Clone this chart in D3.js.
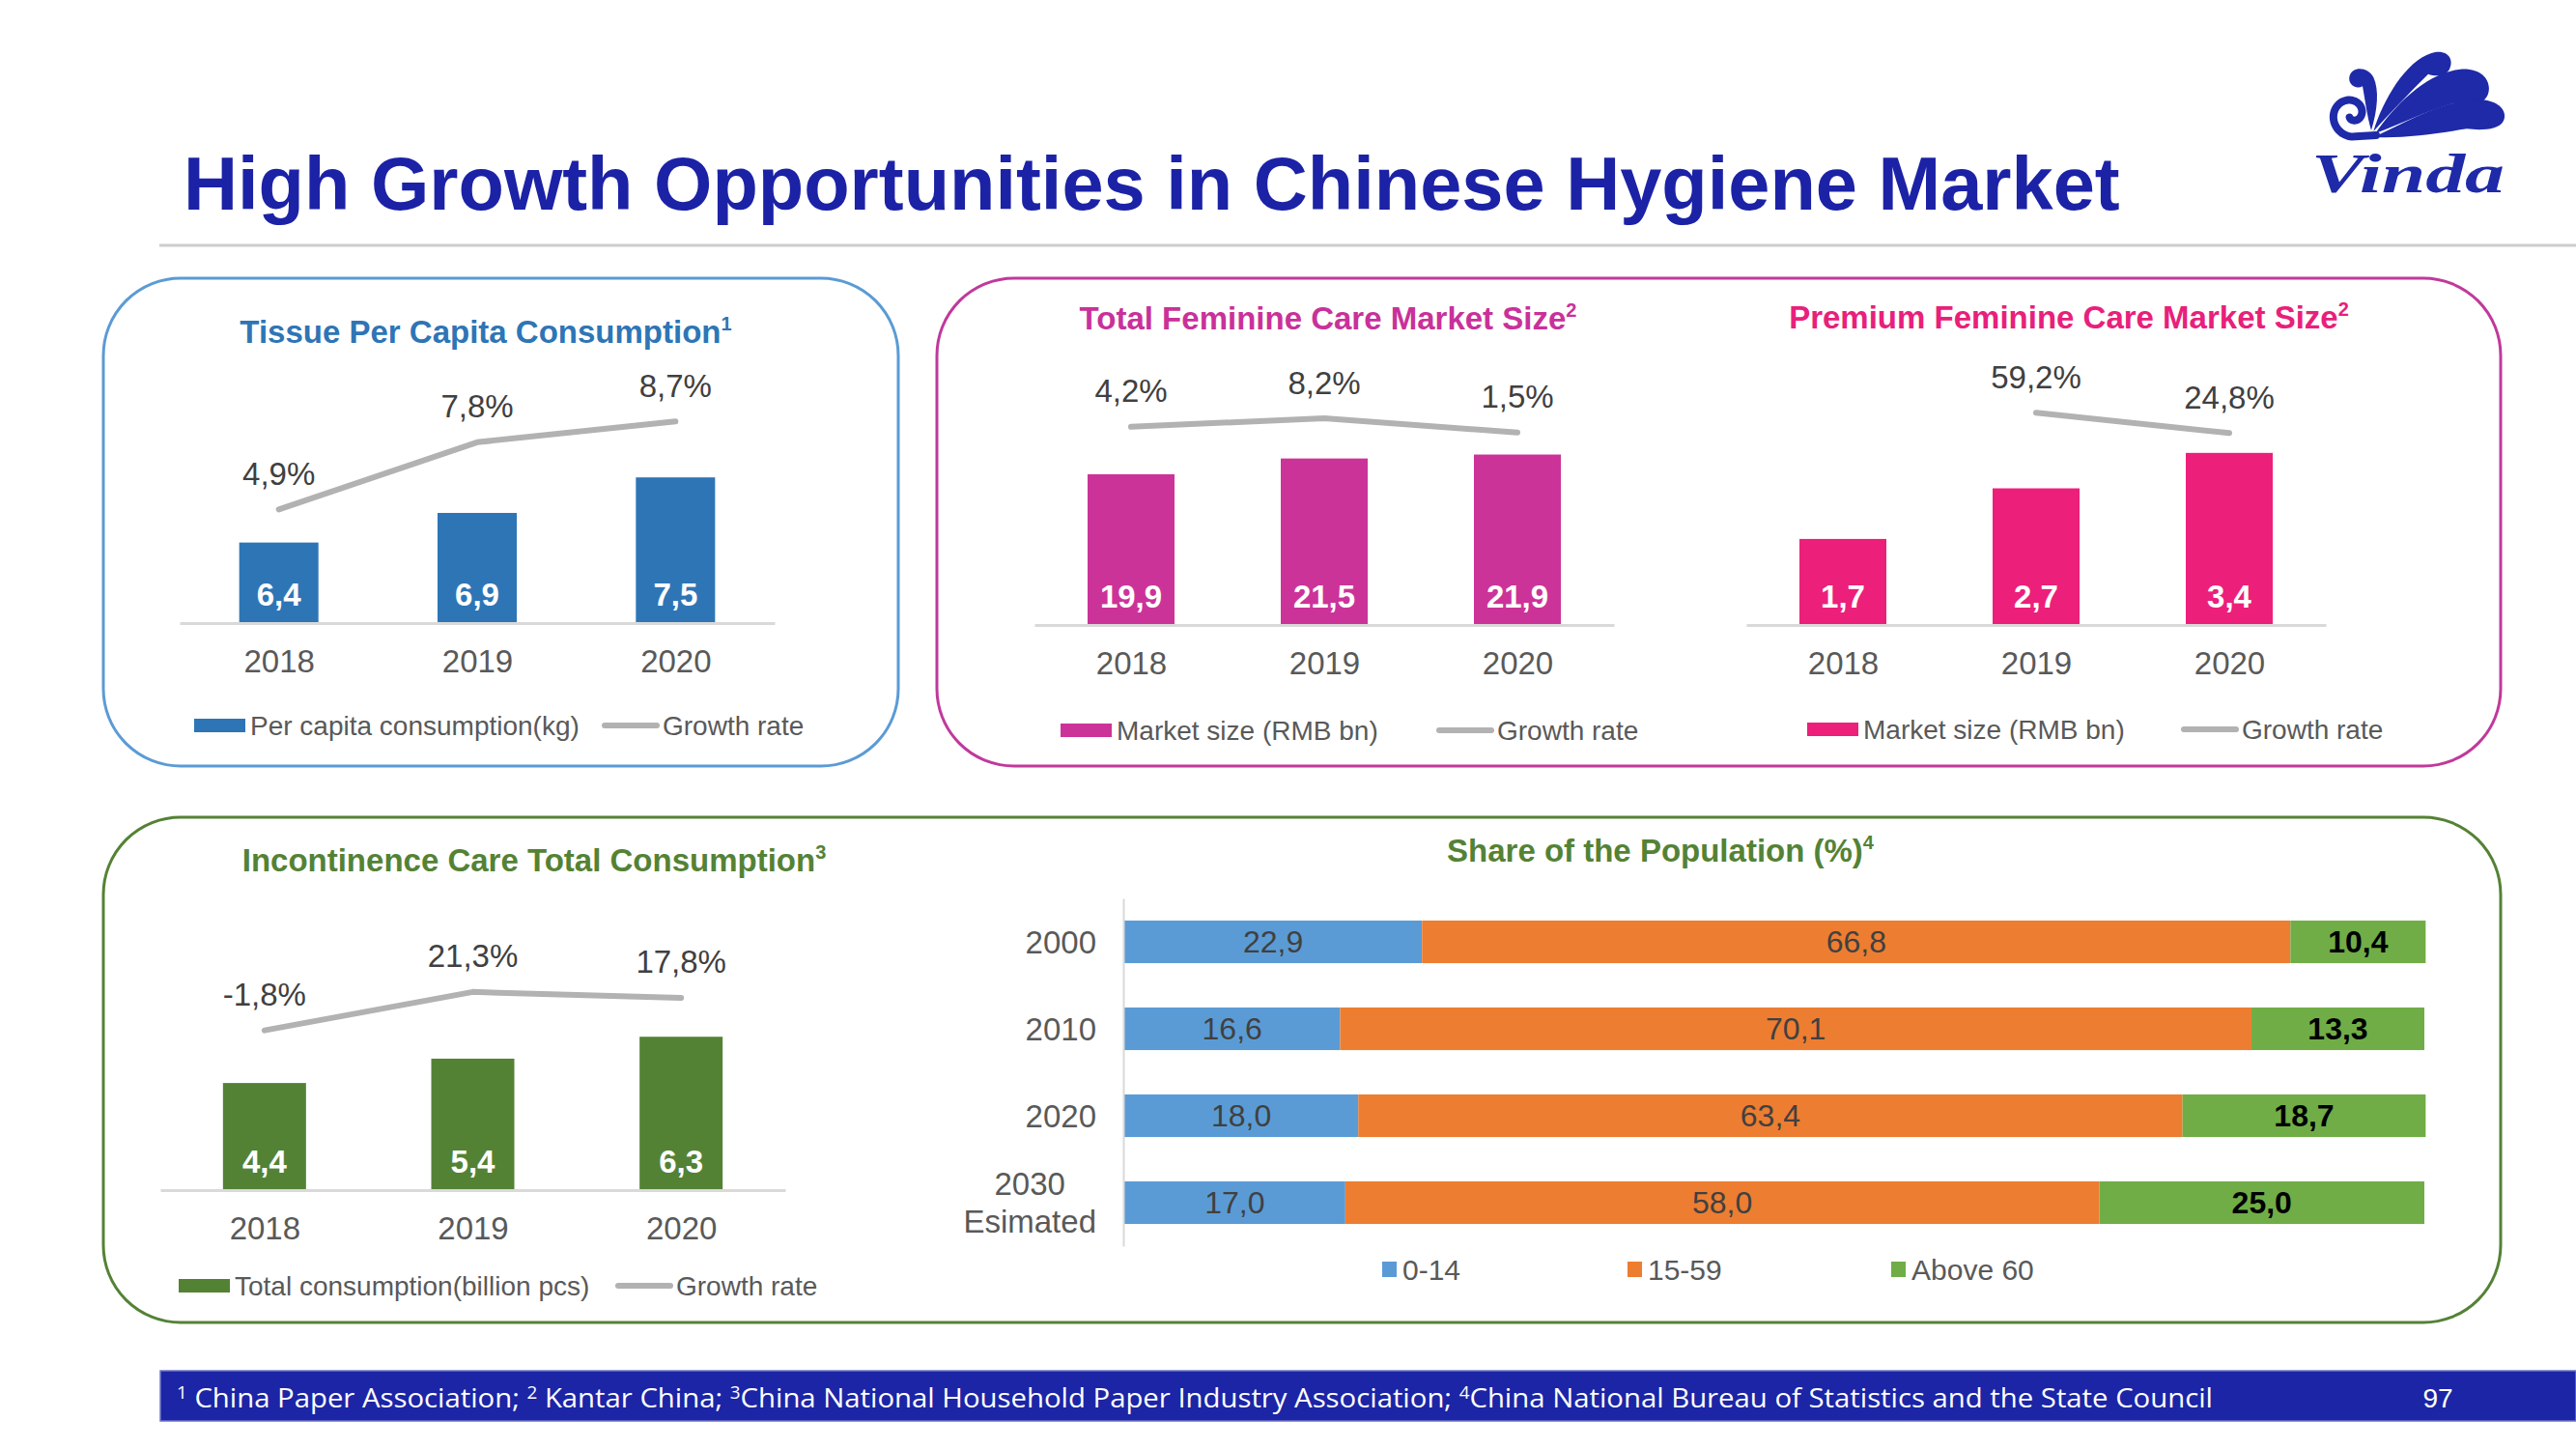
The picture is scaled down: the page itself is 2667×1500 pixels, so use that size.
<!DOCTYPE html>
<html><head><meta charset="utf-8">
<script src="https://cdn.jsdelivr.net/npm/d3@7"></script>
<style>
body{margin:0;background:#fff}
svg{display:block;font-family:"Liberation Sans",Arial,Helvetica,sans-serif}
</style>
</head><body>
<svg id="c" width="2667" height="1500"></svg>
<script>
// ---------------- DATA ----------------
const pageTitle = "High Growth Opportunities in Chinese Hygiene Market";
const years = ["2018", "2019", "2020"];
const tissueValues = [6.4, 6.9, 7.5];
const tissueGrowth = [4.9, 7.8, 8.7];
const femValues = [19.9, 21.5, 21.9];
const femGrowth = [4.2, 8.2, 1.5];
const premValues = [1.7, 2.7, 3.4];
const premGrowth = [null, 59.2, 24.8];
const incoValues = [4.4, 5.4, 6.3];
const incoGrowth = [-1.8, 21.3, 17.8];
const popCategories = ["2000", "2010", "2020", "2030|Esimated"];
const popGroups = ["0-14", "15-59", "Above 60"];
const pop0to14 = [22.9, 16.6, 18.0, 17.0];
const pop15to59 = [66.8, 70.1, 63.4, 58.0];
const popAbove60 = [10.4, 13.3, 18.7, 25.0];
const footnoteParts = [["1", " China Paper Association;  "], ["2", " Kantar China;  "], ["3", "China National Household Paper Industry Association; "], ["4", "China National Bureau of Statistics and the State Council"]];
const pageNumber = "97";

// ---------------- DRAW ----------------
const svg = d3.select("#c");
const fmt = v => d3.format(".1f")(v).replace(".", ",").replace("\u2212", "-");
const LABEL = "#404040", AXTXT = "#595959", GLINE = "#b2b2b2", AXLINE = "#d9d9d9";

svg.append("rect").attr("width", 2667).attr("height", 1500).attr("fill", "#fff");

// header
svg.append("text").attr("x", 190).attr("y", 217).attr("font-size", 77.6).attr("font-weight", "bold")
  .attr("fill", "#1c22a6").text(pageTitle);
svg.append("line").attr("x1", 165).attr("x2", 2667).attr("y1", 254).attr("y2", 254)
  .attr("stroke", "#cdcdcd").attr("stroke-width", 3);

// logo
const logo = svg.append("g").attr("transform", "translate(2380,40) scale(0.3333)").attr("fill", "#1e2aa8");
const spiral = d3.range(1.3 * Math.PI, 3.5 * Math.PI + 0.001, 0.05).map(t => {
  const r = 12 + 58 * (t - 1.3 * Math.PI) / (2.2 * Math.PI);
  return [165 + r * Math.cos(t), 235 - r * Math.sin(t)];
});
logo.append("path").attr("d", d3.line().curve(d3.curveBasis)(spiral.concat([[240, 300]])))
  .attr("fill", "none").attr("stroke", "#1e2aa8").attr("stroke-width", 24).attr("stroke-linecap", "round");
logo.append("path").attr("d", "M225,285 C245,220 250,160 232,120 C216,88 168,84 158,115 C150,142 178,160 198,148 C206,190 212,240 225,285 Z");
logo.append("path").attr("d", "M232,288 C262,190 332,70 412,45 C462,30 484,65 468,95 C452,122 420,116 402,110 C342,170 282,232 232,288 Z");
logo.append("path").attr("d", "M238,294 C302,200 402,105 502,95 C572,90 602,135 587,175 C572,210 522,210 482,200 C402,222 322,262 238,294 Z");
logo.append("path").attr("d", "M240,302 C350,252 450,190 560,190 C620,190 650,225 636,255 C622,285 562,285 522,280 C422,296 322,310 240,306 Z");
svg.append("text").attr("x", 2393).attr("y", 199).attr("font-family", "'Liberation Serif',serif")
  .attr("font-style", "italic").attr("font-weight", "bold").attr("font-size", 58)
  .attr("textLength", 200).attr("lengthAdjust", "spacingAndGlyphs").attr("fill", "#1e2aa8").text("Vinda");

// panels
const panels = [
  {x: 107, y: 288, w: 823, h: 505, color: "#5b9bd5"},
  {x: 970, y: 288, w: 1619, h: 505, color: "#c0399b"},
  {x: 107, y: 846, w: 2482, h: 523, color: "#548235"}
];
svg.selectAll(".panel").data(panels).join("rect").attr("class", "panel")
  .attr("x", d => d.x).attr("y", d => d.y).attr("width", d => d.w).attr("height", d => d.h)
  .attr("rx", 80).attr("ry", 80).attr("fill", "none").attr("stroke", d => d.color).attr("stroke-width", 3);

function chartTitle(x, y, text, sup, color) {
  const t = svg.append("text").attr("x", x).attr("y", y).attr("text-anchor", "middle")
    .attr("font-size", 33).attr("font-weight", "bold").attr("fill", color);
  t.append("tspan").text(text);
  t.append("tspan").attr("dy", -13).attr("font-size", 20).text(sup);
}

function drawCombo(c, vals, growth) {
  const g = svg.append("g");
  const base = c.barRange[0];
  const x = d3.scalePoint().domain(years).range(c.xRange).padding(0.5);
  const yb = d3.scaleLinear().domain(c.barDomain).range(c.barRange);
  const yl = d3.scaleLinear().domain(c.lineDomain).range(c.lineRange);
  const data = years.map((y, i) => ({year: y, v: vals[i], g: growth[i]}));

  g.selectAll(".bar").data(data).join("rect")
    .attr("x", d => x(d.year) - c.barW / 2).attr("y", d => yb(d.v))
    .attr("width", c.barW).attr("height", d => base - yb(d.v)).attr("fill", c.color);

  const ax = g.append("g").attr("transform", `translate(0,${base})`)
    .call(d3.axisBottom(x).tickSize(0).tickPadding(28));
  ax.select(".domain").attr("stroke", AXLINE).attr("stroke-width", 3);
  ax.selectAll("text").attr("font-size", 33).attr("fill", AXTXT).attr("font-family", null);

  g.selectAll(".val").data(data).join("text")
    .attr("x", d => x(d.year)).attr("y", base - 30).attr("dy", "0.35em").attr("text-anchor", "middle")
    .attr("font-size", 33).attr("font-weight", "bold").attr("fill", "#fff").text(d => fmt(d.v));

  const line = d3.line().defined(d => d.g != null).x(d => x(d.year)).y(d => yl(d.g));
  g.append("path").attr("d", line(data)).attr("fill", "none").attr("stroke", GLINE)
    .attr("stroke-width", 6).attr("stroke-linecap", "round").attr("stroke-linejoin", "round");
  g.selectAll(".gl").data(data.filter(d => d.g != null)).join("text")
    .attr("x", d => x(d.year)).attr("y", d => yl(d.g) - 37).attr("dy", "0.35em").attr("text-anchor", "middle")
    .attr("font-size", 33).attr("fill", LABEL).text(d => fmt(d.g) + "%");

  const L = c.legend;
  g.append("rect").attr("x", L.rx).attr("y", L.y - 7).attr("width", 53).attr("height", 14).attr("fill", c.color);
  g.append("text").attr("x", L.rx + 58).attr("y", L.y).attr("dy", "0.35em").attr("font-size", 28)
    .attr("fill", AXTXT).text(L.barLabel);
  g.append("line").attr("x1", L.lx).attr("x2", L.lx + 54).attr("y1", L.y).attr("y2", L.y)
    .attr("stroke", GLINE).attr("stroke-width", 6).attr("stroke-linecap", "round");
  g.append("text").attr("x", L.lx + 60).attr("y", L.y).attr("dy", "0.35em").attr("font-size", 28)
    .attr("fill", AXTXT).text("Growth rate");
}

// Tissue
chartTitle(503, 355, "Tissue Per Capita Consumption", "1", "#2e75b6");
drawCombo({xRange: [186, 802], barDomain: [5.04, 8], barRange: [645, 645 - 2.96 * 61.3],
  lineDomain: [0, 10], lineRange: [645, 405], barW: 82, color: "#2e75b6",
  legend: {rx: 201, lx: 626, y: 751, barLabel: "Per capita consumption(kg)"}}, tissueValues, tissueGrowth);

// Total feminine
chartTitle(1375, 341, "Total Feminine Care Market Size", "2", "#c9319a");
drawCombo({xRange: [1071, 1671], barDomain: [4.6, 24.6], barRange: [647, 443],
  lineDomain: [0, 10], lineRange: [451, 429], barW: 90, color: "#cc3399",
  legend: {rx: 1098, lx: 1490, y: 756, barLabel: "Market size (RMB bn)"}}, femValues, femGrowth);

// Premium feminine
chartTitle(2142, 340, "Premium Feminine Care Market Size", "2", "#e8207b");
drawCombo({xRange: [1808, 2408], barDomain: [0, 4], barRange: [647, 647 - 209.6],
  lineDomain: [0, 100], lineRange: [463.4, 402.4], barW: 90, color: "#ec1f7a",
  legend: {rx: 1871, lx: 2261, y: 755, barLabel: "Market size (RMB bn)"}}, premValues, premGrowth);

// Incontinence
chartTitle(553, 902, "Incontinence Care Total Consumption", "3", "#548235");
drawCombo({xRange: [166, 813], barDomain: [0, 8], barRange: [1232, 1232 - 201.6],
  lineDomain: [0, 20], lineRange: [1063.5, 1029.1], barW: 86, color: "#548235",
  legend: {rx: 185, lx: 640, y: 1331, barLabel: "Total consumption(billion pcs)"}}, incoValues, incoGrowth);

// Share of population
chartTitle(1719, 892, "Share of the Population (%)", "4", "#548235");
{
  const g = svg.append("g");
  const popColors = ["#5b9bd5", "#ed7d31", "#70ad47"];
  const rows = popCategories.map((c, i) => ({cat: c, "0-14": pop0to14[i], "15-59": pop15to59[i], "Above 60": popAbove60[i]}));
  const stack = d3.stack().keys(popGroups)(rows);
  const xs = d3.scaleLinear().domain([0, 100]).range([1164, 2510]);
  const ys = d3.scaleBand().domain(popCategories).range([930, 1290]).paddingInner(0.51).paddingOuter(0.255);
  const layers = g.selectAll(".layer").data(stack).join("g").attr("fill", (d, i) => popColors[i]);
  layers.selectAll("rect").data(d => d).join("rect")
    .attr("x", d => xs(d[0])).attr("width", d => xs(d[1]) - xs(d[0]))
    .attr("y", d => ys(d.data.cat)).attr("height", ys.bandwidth());
  layers.each(function (layer, li) {
    d3.select(this).selectAll("text").data(layer).join("text")
      .attr("x", d => (xs(d[0]) + xs(d[1])) / 2).attr("y", d => ys(d.data.cat) + ys.bandwidth() / 2)
      .attr("dy", "0.35em").attr("text-anchor", "middle").attr("font-size", 32)
      .attr("font-weight", li === 2 ? "bold" : "normal").attr("fill", li === 2 ? "#000" : LABEL)
      .text(d => fmt(d[1] - d[0]));
  });
  const ay = g.append("g").attr("transform", "translate(1163,0)")
    .call(d3.axisLeft(ys).tickSize(0).tickPadding(28).tickFormat(() => ""));
  ay.select(".domain").attr("stroke", AXLINE).attr("stroke-width", 2);
  ay.selectAll(".tick").each(function (cat) {
    const parts = cat.split("|");
    const t = d3.select(this).select("text").attr("font-size", 33).attr("fill", AXTXT).attr("font-family", null).attr("dy", null);
    if (parts.length === 1) {
      t.attr("x", -28).attr("y", 0).attr("dy", "0.35em").text(cat);
    } else {
      t.text(null).attr("text-anchor", "middle");
      parts.forEach((p, k) => t.append("tspan").attr("x", 0).attr("y", (k - 0.5) * 39).attr("dy", "0.35em").text(p));
      let w = 0;
      t.selectAll("tspan").each(function () { w = Math.max(w, this.getComputedTextLength()); });
      t.selectAll("tspan").attr("x", -28 - w / 2);
    }
  });
  // legend
  const legX = [1431, 1685, 1958];
  popGroups.forEach((k, i) => {
    g.append("rect").attr("x", legX[i]).attr("y", 1306).attr("width", 15).attr("height", 16).attr("fill", popColors[i]);
    g.append("text").attr("x", legX[i] + 21).attr("y", 1314).attr("dy", "0.35em").attr("font-size", 30)
      .attr("fill", AXTXT).text(k);
  });
}

// footer
svg.append("rect").attr("x", 166).attr("y", 1419).attr("width", 2501).attr("height", 52)
  .attr("fill", "#1b25a6").attr("stroke", "#6f76c6").attr("stroke-width", 1.5);
const ft = svg.append("text").attr("x", 183).attr("y", 1457).attr("font-size", 28).attr("fill", "#fff")
  .attr("font-family", "'Open Sans','Liberation Sans',Arial,sans-serif")
  .attr("textLength", 2108).attr("lengthAdjust", "spacingAndGlyphs");
footnoteParts.forEach(([s, txt]) => {
  ft.append("tspan").attr("dy", -9).attr("font-size", 18).text(s);
  ft.append("tspan").attr("dy", 9).text(txt);
});
svg.append("text").attr("x", 2524).attr("y", 1457).attr("text-anchor", "middle").attr("font-size", 28)
  .attr("fill", "#fff").text(pageNumber);
</script>
</body></html>
